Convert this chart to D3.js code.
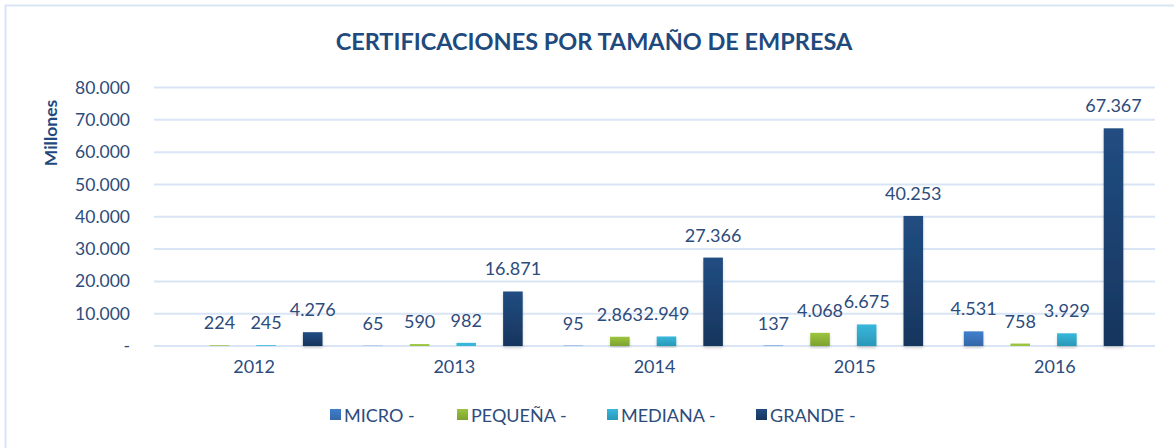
<!DOCTYPE html>
<html lang="es">
<head>
<meta charset="UTF-8">
<title>Certificaciones por tamaño de empresa</title>
<script src="https://d3js.org/d3.v7.min.js"></script>
<style>
  body { margin: 0; background: #fff; }
  text { font-family: Lato, "DejaVu Sans", sans-serif; }
</style>
</head>
<body>
<svg id="chart" width="1174" height="448"></svg>
<script>
// data
var years = ["2012", "2013", "2014", "2015", "2016"];
var series = ["MICRO -", "PEQUEÑA -", "MEDIANA -", "GRANDE -"];
var micro   = [null, 65, 95, 137, 4531];
var pequena = [224, 590, 2863, 4068, 758];
var mediana = [245, 982, 2949, 6675, 3929];
var grande  = [4276, 16871, 27366, 40253, 67367];
var yTicks = [0, 10000, 20000, 30000, 40000, 50000, 60000, 70000, 80000];

var seriesValues = [micro, pequena, mediana, grande];
var colorsTop = ["#3f7fcc", "#9cc43e", "#38b7db", "#214d82"];
var colorsBottom = ["#3567a8", "#7ca22f", "#2a98b8", "#17355d"];
var textColor = "#2d4c7c";

var svg = d3.select("#chart");
var margin = {top: 87.5, left: 154, right: 19, bottom: 102};
var width = 1174 - margin.left - margin.right,
    height = 448 - margin.top - margin.bottom;

// frame
svg.append("rect")
    .attr("x", 5.5).attr("y", 5.5)
    .attr("width", 1200).attr("height", 500)
    .attr("fill", "none")
    .attr("stroke", "#d9e5f4")
    .attr("stroke-width", 2);

var defs = svg.append("defs");
series.forEach(function(s, i) {
    var g = defs.append("linearGradient")
        .attr("id", "grad" + i)
        .attr("x1", 0).attr("y1", 0).attr("x2", 0).attr("y2", 1);
    g.append("stop").attr("offset", "0%").attr("stop-color", colorsTop[i]);
    g.append("stop").attr("offset", "100%").attr("stop-color", colorsBottom[i]);
});
var shadow = defs.append("filter").attr("id", "shadow")
    .attr("x", "-50%").attr("y", "-10%").attr("width", "200%").attr("height", "130%");
shadow.append("feDropShadow")
    .attr("dx", 0).attr("dy", 2).attr("stdDeviation", 1.5)
    .attr("flood-color", "#000").attr("flood-opacity", 0.18);

var x0 = d3.scaleBand().domain(years).range([0, width]).padding(0);
var x1 = d3.scaleBand().domain(series)
    .range([9, 168.5])
    .paddingInner(0.58).paddingOuter(0);
var y = d3.scaleLinear().domain([0, 80000]).range([height, 0]);

var g = svg.append("g")
    .attr("transform", "translate(" + margin.left + "," + margin.top + ")");

// gridlines
g.append("g")
    .selectAll("line")
    .data(yTicks)
    .enter().append("line")
    .attr("x1", 0).attr("x2", width)
    .attr("y1", function(d) { return y(d); })
    .attr("y2", function(d) { return y(d); })
    .attr("stroke", "#d9e5f4")
    .attr("stroke-width", 2);

// y axis
var y_axis = d3.axisLeft(y)
    .tickValues(yTicks)
    .tickSize(0)
    .tickPadding(24)
    .tickFormat(function(d) { return d === 0 ? "-" : d3.format(",")(d).replace(/,/g, "."); });
var ya = g.append("g").call(y_axis);
ya.select(".domain").remove();
ya.selectAll("text")
    .attr("fill", textColor)
    .style("font-size", "17.5px");

// x axis
var x_axis = d3.axisBottom(x0).tickSize(0).tickPadding(14);
var xa = g.append("g")
    .attr("transform", "translate(0," + height + ")")
    .call(x_axis);
xa.select(".domain").remove();
xa.selectAll("text")
    .attr("fill", textColor)
    .style("font-size", "18px");

// bars
var groups = g.selectAll(".year")
    .data(years)
    .enter().append("g")
    .attr("class", "year")
    .attr("transform", function(d) { return "translate(" + x0(d) + ",0)"; });

var cells = groups.selectAll(".cell")
    .data(function(d, yi) {
        return series.map(function(s, si) {
            return {series: s, si: si, value: seriesValues[si][yi]};
        });
    })
    .enter().append("g")
    .attr("class", "cell");

function barH(d) { return Math.max(y(0) - y(d.value), 0); }

cells.filter(function(d) { return d.value != null; })
    .append("rect")
    .attr("x", function(d) { return x1(d.series); })
    .attr("width", x1.bandwidth())
    .attr("y", function(d) { return y(d.value); })
    .attr("height", barH)
    .attr("fill", function(d) { return barH(d) > 4 ? "url(#grad" + d.si + ")" : colorsTop[d.si]; })
    .attr("filter", function(d) { return barH(d) > 4 ? "url(#shadow)" : null; });

cells.filter(function(d) { return d.value != null; })
    .append("text")
    .attr("x", function(d) { return x1(d.series) + x1.bandwidth() / 2; })
    .attr("y", function(d) { return y(d.value) - 16; })
    .attr("text-anchor", "middle")
    .attr("fill", textColor)
    .style("font-size", "18px")
    .text(function(d) { return d3.format(",")(d.value).replace(/,/g, "."); });

// title
svg.append("text")
    .attr("x", 594)
    .attr("y", 50)
    .attr("text-anchor", "middle")
    .attr("fill", "#1f4a7e")
    .style("font-size", "23.5px")
    .style("font-weight", "bold")
    .text("CERTIFICACIONES POR TAMAÑO DE EMPRESA");

// y label
svg.append("text")
    .attr("transform", "translate(57,133) rotate(-90)")
    .attr("text-anchor", "middle")
    .attr("fill", "#1f4a7e")
    .style("font-size", "17.5px")
    .style("font-weight", "bold")
    .text("Millones");

// legend
var legendX = [330, 457, 607, 756];
var legend = svg.append("g")
    .selectAll("g")
    .data(series)
    .enter().append("g")
    .attr("transform", function(d, i) { return "translate(" + legendX[i] + ",415)"; });
legend.append("rect")
    .attr("x", 0).attr("y", -6)
    .attr("width", 11).attr("height", 11)
    .attr("fill", function(d, i) { return "url(#grad" + i + ")"; });
legend.append("text")
    .attr("x", 14).attr("y", 6.5)
    .attr("fill", textColor)
    .style("font-size", "18px")
    .text(function(d) { return d; });
</script>
</body>
</html>
